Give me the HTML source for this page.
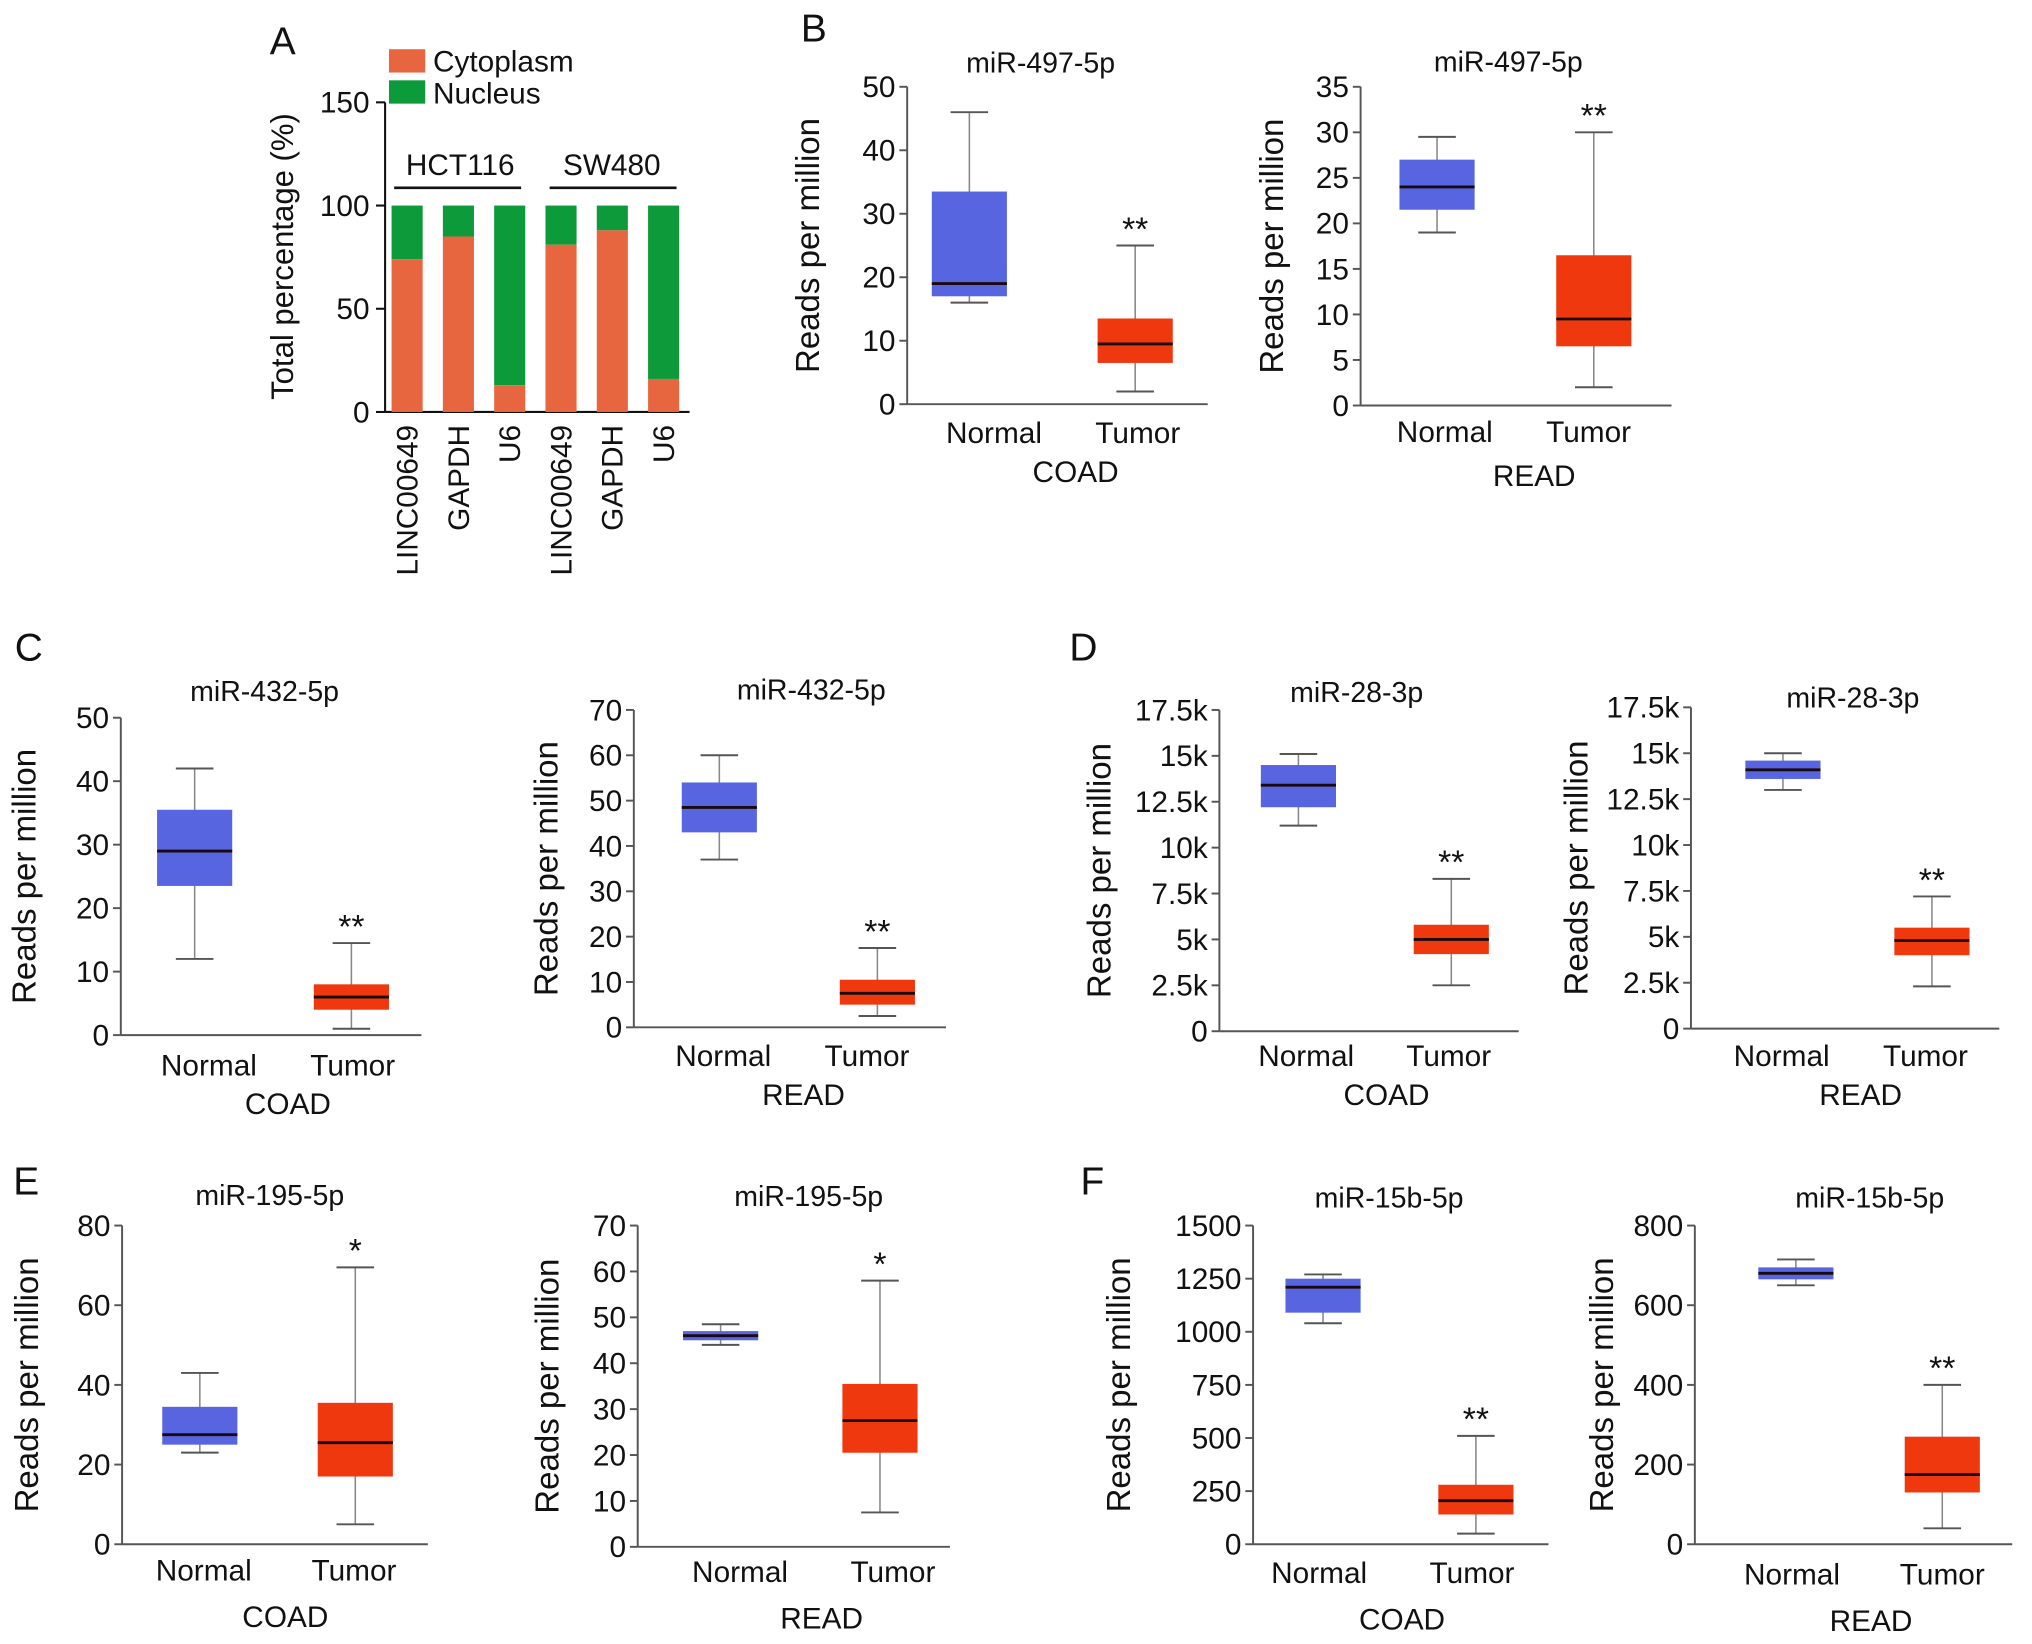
<!DOCTYPE html>
<html><head><meta charset="utf-8">
<style>
html,body{margin:0;padding:0;background:#fff;}
svg{display:block;font-family:"Liberation Sans",Arial,sans-serif;}
</style></head>
<body>
<svg id="fig" width="2032" height="1644" viewBox="0 0 1568 1269" xmlns="http://www.w3.org/2000/svg"></svg>
<script>
// Panel A data
const aCategories = ["LINC00649","GAPDH","U6","LINC00649","GAPDH","U6"];
const aCytoplasm = [74,85,13,81,88,16];
const aTicks = [0,50,100,150];

// Box plot data: [min,q1,median,q3,max]
const bCoadNormal=[16,17,19,33.5,46], bCoadTumor=[2,6.5,9.5,13.5,25];
const bReadNormal=[19,21.5,24,27,29.5], bReadTumor=[2,6.5,9.5,16.5,30];
const cCoadNormal=[12,23.5,29,35.5,42], cCoadTumor=[1,4,6,8,14.5];
const cReadNormal=[37,43,48.5,54,60], cReadTumor=[2.5,5,7.5,10.5,17.5];
const dCoadNormal=[11.2,12.2,13.4,14.5,15.1], dCoadTumor=[2.5,4.2,5,5.8,8.3];
const dReadNormal=[13,13.6,14.1,14.6,15], dReadTumor=[2.3,4,4.8,5.5,7.2];
const eCoadNormal=[23,25,27.5,34.5,43], eCoadTumor=[5,17,25.5,35.5,69.5];
const eReadNormal=[44,45,46,47,48.5], eReadTumor=[7.5,20.5,27.5,35.5,58];
const fCoadNormal=[1040,1090,1210,1250,1270], fCoadTumor=[50,140,205,280,510];
const fReadNormal=[650,665,680,695,715], fReadTumor=[40,130,175,270,400];
const ticks50=[0,10,20,30,40,50], ticks35=[0,5,10,15,20,25,30,35], ticks70=[0,10,20,30,40,50,60,70];
const ticks80=[0,20,40,60,80], ticks1500=[0,250,500,750,1000,1250,1500], ticks800=[0,200,400,600,800];
const ticksK=[0,2.5,5,7.5,10,12.5,15,17.5];
const ticksKLabels=["0","2.5k","5k","7.5k","10k","12.5k","15k","17.5k"];

const svg=document.getElementById('fig');
const NS="http://www.w3.org/2000/svg";
function mk(tag,attrs,parent,name){
  const e=document.createElementNS(NS,tag);
  for(const k in attrs)e.setAttribute(k,attrs[k]);
  
  
  (parent||svg).appendChild(e);return e;
}
function txt(x,y,s,size,parent,name,anchor,extra){
  const t=mk('text',Object.assign({x:x,y:y,'font-size':size,'text-anchor':anchor||'middle',fill:'#111'},extra||{}),parent,name);
  t.textContent=s;return t;
}
[["A",218,42],["B",628,32],["C",22,510],["D",836,510],["E",20,922],["F",843,922]].forEach(p=>txt(p[1],p[2],p[0],30,svg,'panel-label-'+p[0].toLowerCase()));

// ---------- Panel A ----------
(function(){
  const g=mk('g',{},svg,'panel-a-stacked-bar-chart');
  const ax=297, y0=318, y150=79;
  const ys=v=>y0-(v/150)*(y0-y150);
  const xc=i=>314+i*39.6;
  mk('line',{x1:ax,y1:y150,x2:ax,y2:y0,stroke:'#111','stroke-width':1.6},g,'y-axis');
  mk('line',{x1:ax,y1:y0,x2:532,y2:y0,stroke:'#111','stroke-width':1.6},g,'x-axis');
  aTicks.forEach(t=>{
    mk('line',{x1:ax-7,y1:ys(t),x2:ax,y2:ys(t),stroke:'#111','stroke-width':1.6},g,'y-tick');
    txt(ax-12,ys(t)+8,String(t),23,g,'y-tick-label','end');
  });
  const yt=txt(0,0,'Total percentage (%)',24,g,'y-axis-title');
  yt.setAttribute('transform','translate(226,198) rotate(-90)');
  aCategories.forEach((c,i)=>{
    const x=xc(i), w=24;
    mk('rect',{x:x-w/2,y:ys(100),width:w,height:ys(aCytoplasm[i])-ys(100),fill:'#0c9a3a'},g,'bar-nucleus');
    mk('rect',{x:x-w/2,y:ys(aCytoplasm[i]),width:w,height:y0-ys(aCytoplasm[i]),fill:'#e8663f'},g,'bar-cytoplasm');
    const l=txt(0,0,c,23,g,'x-tick-label','end');
    l.setAttribute('transform','translate('+(x+8)+','+(y0+10)+') rotate(-90)');
  });
  mk('line',{x1:304,y1:145,x2:402,y2:145,stroke:'#111','stroke-width':2},g,'group-line-hct116');
  mk('line',{x1:424,y1:145,x2:522,y2:145,stroke:'#111','stroke-width':2},g,'group-line-sw480');
  txt(355,135,'HCT116',23,g,'group-label-hct116');
  txt(472,135,'SW480',23,g,'group-label-sw480');
  mk('rect',{x:300,y:38,width:28,height:18,fill:'#e8663f'},g,'legend-swatch-cytoplasm');
  txt(334,55,'Cytoplasm',23,g,'legend-label-cytoplasm','start');
  mk('rect',{x:300,y:62,width:28,height:18,fill:'#0c9a3a'},g,'legend-swatch-nucleus');
  txt(334,80,'Nucleus',23,g,'legend-label-nucleus','start');
})();

// ---------- Box plots ----------
function boxPlot(o){
  const g=mk('g',{},svg,o.name);
  const ys=v=>o.y0-(v/o.max)*(o.y0-o.yTop);
  mk('line',{x1:o.ax,y1:o.yTop,x2:o.ax,y2:o.y0,stroke:'#555','stroke-width':1.5},g,'y-axis');
  mk('line',{x1:o.ax,y1:o.y0,x2:o.xEnd,y2:o.y0,stroke:'#555','stroke-width':1.5},g,'x-axis');
  o.ticks.forEach((t,i)=>{
    mk('line',{x1:o.ax-6,y1:ys(t),x2:o.ax,y2:ys(t),stroke:'#555','stroke-width':1.5},g,'y-tick');
    txt(o.ax-9,ys(t)+8,o.labels?o.labels[i]:String(t),23,g,'y-tick-label','end');
  });
  const yt=txt(0,0,'Reads per million',25.5,g,'y-axis-title');
  yt.setAttribute('transform','translate('+o.yTitleX+','+((o.y0+o.yTop)/2)+') rotate(-90)');
  txt(o.titleX,o.titleY,o.title,22,g,'chart-title');
  [[o.normal,o.nx,'#5865e0','normal'],[o.tumor,o.tx,'#f0380f','tumor']].forEach(b=>{
    const d=b[0], x=b[1], w=58;
    mk('line',{x1:x,y1:ys(d[4]),x2:x,y2:ys(d[0]),stroke:'#888','stroke-width':1.2},g,'whisker-'+b[3]);
    mk('line',{x1:x-w/4,y1:ys(d[4]),x2:x+w/4,y2:ys(d[4]),stroke:'#555','stroke-width':1.5},g,'whisker-cap-max-'+b[3]);
    mk('line',{x1:x-w/4,y1:ys(d[0]),x2:x+w/4,y2:ys(d[0]),stroke:'#555','stroke-width':1.5},g,'whisker-cap-min-'+b[3]);
    mk('rect',{x:x-w/2,y:ys(d[3]),width:w,height:Math.max(1,ys(d[1])-ys(d[3])),fill:b[2]},g,'box-'+b[3]);
    mk('line',{x1:x-w/2,y1:ys(d[2]),x2:x+w/2,y2:ys(d[2]),stroke:'#1a0a10','stroke-width':2.2},g,'median-'+b[3]);
  });
  txt(o.tx,ys(o.tumor[4])-4,o.star,26,g,'significance-marker');
  txt(o.nlx,o.xlabY,'Normal',23,g,'x-tick-label-normal');
  txt(o.tlx,o.xlabY,'Tumor',23,g,'x-tick-label-tumor');
  txt(o.gx,o.gy,o.group,23,g,'x-axis-group-label');
}
boxPlot({name:'panel-b-coad',ax:700,y0:312,yTop:67,max:50,ticks:ticks50,xEnd:932,normal:bCoadNormal,tumor:bCoadTumor,nx:748,tx:876,star:'**',title:'miR-497-5p',titleX:803,titleY:56,nlx:767,tlx:878,xlabY:342,gx:830,gy:372,group:'COAD',yTitleX:632});
boxPlot({name:'panel-b-read',ax:1050,y0:313,yTop:67,max:35,ticks:ticks35,xEnd:1290,normal:bReadNormal,tumor:bReadTumor,nx:1109,tx:1230,star:'**',title:'miR-497-5p',titleX:1164,titleY:55,nlx:1115,tlx:1226,xlabY:341,gx:1184,gy:375,group:'READ',yTitleX:990});
boxPlot({name:'panel-c-coad',ax:93,y0:799,yTop:554,max:50,ticks:ticks50,xEnd:325,normal:cCoadNormal,tumor:cCoadTumor,nx:150,tx:271,star:'**',title:'miR-432-5p',titleX:204,titleY:541,nlx:161,tlx:272,xlabY:830,gx:222,gy:860,group:'COAD',yTitleX:27});
boxPlot({name:'panel-c-read',ax:489,y0:793,yTop:548,max:70,ticks:ticks70,xEnd:730,normal:cReadNormal,tumor:cReadTumor,nx:555,tx:677,star:'**',title:'miR-432-5p',titleX:626,titleY:540,nlx:558,tlx:669,xlabY:823,gx:620,gy:853,group:'READ',yTitleX:430});
boxPlot({name:'panel-d-coad',ax:941,y0:796,yTop:548,max:17.5,ticks:ticksK,labels:ticksKLabels,xEnd:1172,normal:dCoadNormal,tumor:dCoadTumor,nx:1002,tx:1120,star:'**',title:'miR-28-3p',titleX:1047,titleY:542,nlx:1008,tlx:1118,xlabY:823,gx:1070,gy:853,group:'COAD',yTitleX:857});
boxPlot({name:'panel-d-read',ax:1305,y0:794,yTop:546,max:17.5,ticks:ticksK,labels:ticksKLabels,xEnd:1543,normal:dReadNormal,tumor:dReadTumor,nx:1376,tx:1491,star:'**',title:'miR-28-3p',titleX:1430,titleY:546,nlx:1375,tlx:1486,xlabY:823,gx:1436,gy:853,group:'READ',yTitleX:1225});
boxPlot({name:'panel-e-coad',ax:94,y0:1192,yTop:946,max:80,ticks:ticks80,xEnd:330,normal:eCoadNormal,tumor:eCoadTumor,nx:154,tx:274,star:'*',title:'miR-195-5p',titleX:208,titleY:930,nlx:157,tlx:273,xlabY:1220,gx:220,gy:1256,group:'COAD',yTitleX:29});
boxPlot({name:'panel-e-read',ax:492,y0:1194,yTop:946,max:70,ticks:ticks70,xEnd:733,normal:eReadNormal,tumor:eReadTumor,nx:556,tx:679,star:'*',title:'miR-195-5p',titleX:624,titleY:931,nlx:571,tlx:689,xlabY:1221,gx:634,gy:1257,group:'READ',yTitleX:431});
boxPlot({name:'panel-f-coad',ax:967,y0:1192,yTop:946,max:1500,ticks:ticks1500,xEnd:1195,normal:fCoadNormal,tumor:fCoadTumor,nx:1021,tx:1139,star:'**',title:'miR-15b-5p',titleX:1072,titleY:932,nlx:1018,tlx:1136,xlabY:1222,gx:1082,gy:1258,group:'COAD',yTitleX:872});
boxPlot({name:'panel-f-read',ax:1308,y0:1192,yTop:946,max:800,ticks:ticks800,xEnd:1553,normal:fReadNormal,tumor:fReadTumor,nx:1386,tx:1499,star:'**',title:'miR-15b-5p',titleX:1443,titleY:932,nlx:1383,tlx:1499,xlabY:1223,gx:1444,gy:1259,group:'READ',yTitleX:1245});
</script>
</body></html>
